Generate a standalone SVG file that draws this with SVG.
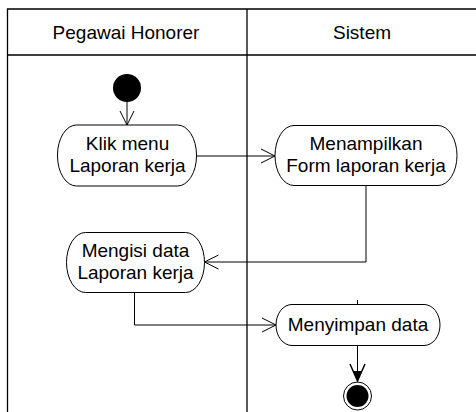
<svg xmlns="http://www.w3.org/2000/svg" width="476" height="412" viewBox="0 0 476 412">
<defs>
<style>
.lane{fill:none;stroke:#000;stroke-width:1.3}
.act{fill:#fff;stroke:#000;stroke-width:1}
.t{font-family:"Liberation Sans",Arial,sans-serif;font-size:19px;fill:#000;text-anchor:middle}
.c{fill:none;stroke:#000;stroke-width:1}
</style>
<marker id="open" markerUnits="userSpaceOnUse" markerWidth="20" markerHeight="20" viewBox="-15 -10 20 20" refX="0" refY="0" orient="auto">
<path d="M -14 -7 L 0 0 L -14 7" fill="none" stroke="#000" stroke-width="1"/>
</marker>
<marker id="open2" markerUnits="userSpaceOnUse" markerWidth="24" markerHeight="20" viewBox="-19 -10 24 20" refX="0" refY="0" orient="auto">
<path d="M -17 -7.5 L 0 0 L -17 7.5" fill="none" stroke="#000" stroke-width="1.5"/>
<path d="M -10 -4.5 L 0 0 L -10 4.5 Z" fill="#000"/>
</marker>
</defs>
<rect width="476" height="412" fill="#fff"/>
<g id="swimlanes">
<path class="lane" d="M 7.5 412 V 9 H 477 M 7.5 55 H 477 M 247 9 V 412"/>
<text class="t" x="126" y="38.5">Pegawai Honorer</text>
<text class="t" x="362" y="38.5">Sistem</text>
</g>
<g id="start">
<circle cx="127" cy="88" r="14" fill="#000"/>
</g>
<g id="klik">
<rect class="act" x="57.5" y="125" width="139" height="61" rx="19" ry="30"/>
<text class="t" x="127.5" y="150">Klik menu</text>
<text class="t" x="127.5" y="172">Laporan kerja</text>
</g>
<g id="menampilkan">
<rect class="act" x="275" y="125.5" width="182" height="60" rx="19" ry="30"/>
<text class="t" x="366" y="150">Menampilkan</text>
<text class="t" x="366" y="172">Form laporan kerja</text>
</g>
<g id="mengisi">
<rect class="act" x="66.5" y="232.5" width="138" height="60" rx="19" ry="30"/>
<text class="t" x="135.5" y="257">Mengisi data</text>
<text class="t" x="135.5" y="279">Laporan kerja</text>
</g>
<g id="menyimpan">
<rect class="act" x="276" y="304.5" width="164" height="41" rx="16" ry="20.5"/>
<text class="t" x="358" y="331">Menyimpan data</text>
</g>
<g id="end">
<circle cx="357.5" cy="396" r="14" fill="#fff" stroke="#000" stroke-width="1"/>
<circle cx="357.5" cy="396" r="11" fill="#000"/>
</g>
<g id="connectors">
<path class="c" d="M 127 102 V 125" marker-end="url(#open)"/>
<path class="c" d="M 196.5 156 H 275" marker-end="url(#open)"/>
<path class="c" d="M 366 185.5 V 262 H 204.5" marker-end="url(#open)"/>
<path class="c" d="M 134.5 292.5 V 325 H 276" marker-end="url(#open)"/>
<path class="c" d="M 357.5 345.5 V 381" marker-end="url(#open2)"/>
<path class="c" d="M 357.5 300 V 304.5"/>
</g>
</svg>
